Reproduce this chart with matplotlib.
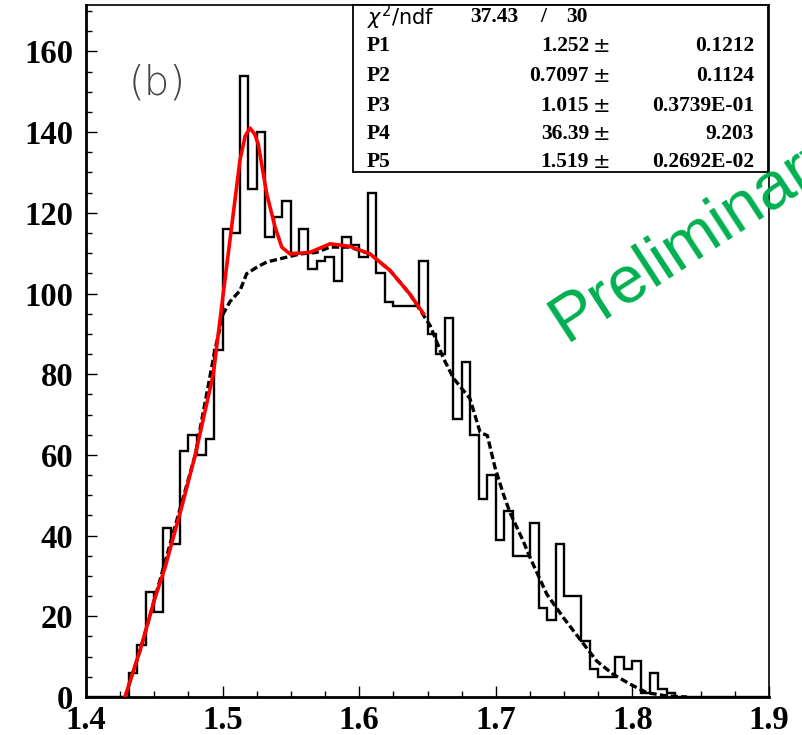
import numpy as np
import matplotlib
matplotlib.use("Agg")
import matplotlib.pyplot as plt
from matplotlib.ticker import MultipleLocator

# histogram: 80 bins of 0.00625 from 1.4 to 1.9
bin_lo = 1.4
bin_width = 0.00625
counts = [0, 0, 0, 0, 0, 6, 13, 26, 21, 42,
          38, 61, 65, 60, 64, 86, 116, 115, 154, 126,
          140, 114, 119, 123, 110, 116, 106, 108, 109, 103,
          114, 112, 109, 125, 105, 98, 97, 97, 97, 108,
          90, 85, 94, 69, 83, 65, 49, 55, 39, 46,
          35, 35, 43, 22, 19, 38, 25, 25, 14, 7,
          5, 5, 10, 7, 9, 1, 6, 2, 1, 0,
          0, 0, 0, 0, 0, 0, 0, 0, 0, 0]

# full fit (red)
fit_x = [1.4286, 1.44, 1.45, 1.4578, 1.47, 1.48, 1.4932, 1.5005, 1.5066, 1.5127,
         1.5165, 1.52, 1.5235, 1.5261, 1.5323, 1.5384, 1.5433, 1.5493, 1.564, 1.5786,
         1.593, 1.608, 1.6226, 1.637, 1.647]
fit_y = [0, 12, 24, 32, 47, 60, 80, 100, 116.5, 133,
         139, 141, 139.5, 137, 124.7, 116.5, 111.5, 109.8, 110.2, 112.3,
         111.7, 109.8, 105.7, 99.9, 95]

# background shape (dashed black)
bg_x = [1.4286, 1.44, 1.45, 1.46, 1.47, 1.48, 1.4883, 1.4944, 1.5005, 1.5054,
        1.5127, 1.5176, 1.525, 1.5323, 1.542, 1.5567, 1.5689, 1.5786, 1.593, 1.608,
        1.6226, 1.637, 1.652, 1.6616, 1.669, 1.681, 1.6885, 1.6938, 1.6994, 1.7055,
        1.7104, 1.72, 1.725, 1.7373, 1.7494, 1.7616, 1.7739, 1.786, 1.7982, 1.8104,
        1.825, 1.84]
bg_y = [0, 12, 24, 36, 48, 60, 75, 86, 95, 98,
        100.7, 104.9, 106.5, 107.8, 108.6, 109.8, 110.2, 111.5, 111.5, 109.8,
        105.7, 99.9, 92, 84, 79, 74, 65.6, 64.8, 56.9, 50.3,
        45.7, 38.7, 34.6, 25.5, 19.7, 14.3, 8.9, 5.6, 3.2, 1.1,
        0.25, 0]

# stats box
par_names = ["P1", "P2", "P3", "P4", "P5"]
par_vals = ["1.252", "0.7097", "1.015", "36.39", "1.519"]
par_errs = ["0.1212", "0.1124", "0.3739E-01", "9.203", "0.2692E-02"]
chi2_txt = "37.43"
ndf_txt = "30"

x_ticks = [1.4, 1.5, 1.6, 1.7, 1.8, 1.9]
y_ticks = [0, 20, 40, 60, 80, 100, 120, 140, 160]

serif = "Liberation Serif"

fig = plt.figure(figsize=(8.02, 7.35), dpi=100)
ax = fig.add_axes([0.1072, 0.0517, 0.8517, 0.9415])

edges = bin_lo + bin_width * np.arange(len(counts) + 1)
ax.stairs(counts, edges, color="black", linewidth=1.7, baseline=None, zorder=3)
ax.plot(bg_x, bg_y, color="black", linewidth=2.4, linestyle=(0, (2.2, 1.0)), zorder=4)
ax.plot(fit_x, fit_y, color="#ff0000", linewidth=2.6, zorder=5)

ax.set_xlim(1.4, 1.9)
ax.set_ylim(0, 171.5)
ax.set_xticks(x_ticks)
ax.set_yticks(y_ticks)
ax.xaxis.set_minor_locator(MultipleLocator(0.025))
ax.yaxis.set_minor_locator(MultipleLocator(5))
ax.tick_params(which="both", direction="in", top=False, right=False, width=1.0)
ax.tick_params(which="major", length=8)
ax.tick_params(which="minor", length=4)
ax.tick_params(axis="y", pad=9)
ax.tick_params(axis="x", pad=6)
ax.set_xticklabels([f"{t:.1f}" for t in x_ticks])
ax.set_yticklabels([str(t) for t in y_ticks])
for lab in ax.get_xticklabels() + ax.get_yticklabels():
    lab.set_fontfamily(serif)
    lab.set_fontweight("bold")
    lab.set_fontsize(23.5)
for sp in ["left", "bottom"]:
    ax.spines[sp].set_linewidth(2.0)
for sp in ["top", "right"]:
    ax.spines[sp].set_linewidth(1.2)

W, H = 802, 735
fig.text(157 / W, 1 - 83 / H, "(b)", fontsize=29, family="DejaVu Sans",
         fontweight="light", color="#444444", ha="center", va="center")

# stats box (top right, in figure pixels)
box = plt.Rectangle((353 / W, 1 - 172 / H), (768 - 353) / W, (172 - 5) / H,
                    transform=fig.transFigure, facecolor="white", edgecolor="black",
                    linewidth=1.3, zorder=6)
fig.patches.append(box)
row_y = [17, 46, 76, 106, 134, 162]
fig.text(367 / W, 1 - row_y[0] / H, r"$\chi^2$/ndf", fontsize=15, family="DejaVu Sans",
         va="center", ha="left", zorder=7)
fig.text(518 / W, 1 - row_y[0] / H, chi2_txt, fontsize=15.5, family=serif, fontweight="bold",
         va="center", ha="right", zorder=7)
fig.text(543 / W, 1 - row_y[0] / H, "/", fontsize=15.5, family=serif, fontweight="bold",
         va="center", ha="center", zorder=7)
fig.text(588 / W, 1 - row_y[0] / H, ndf_txt, fontsize=15.5, family=serif, fontweight="bold",
         va="center", ha="right", zorder=7)
for i in range(len(par_names)):
    yy = 1 - row_y[i + 1] / H
    fig.text(367 / W, yy, par_names[i], fontsize=15.5, family=serif, fontweight="bold",
             va="center", ha="left", zorder=7)
    fig.text(589 / W, yy, par_vals[i], fontsize=15.5, family=serif, fontweight="bold",
             va="center", ha="right", zorder=7)
    fig.text(602 / W, yy, "\u00b1", fontsize=15, family="DejaVu Sans",
             va="center", ha="center", zorder=7)
    fig.text(754 / W, yy, par_errs[i], fontsize=15.5, family=serif, fontweight="bold",
             va="center", ha="right", zorder=7)

# watermark runs off the right edge, as in the original
fig.text(566 / W, 1 - 342 / H, "Preliminary", fontsize=48, family="Liberation Sans",
         color="#00b050", rotation=33, rotation_mode="anchor", ha="left", va="baseline",
         zorder=8)

fig.savefig("out.png", dpi=100)
